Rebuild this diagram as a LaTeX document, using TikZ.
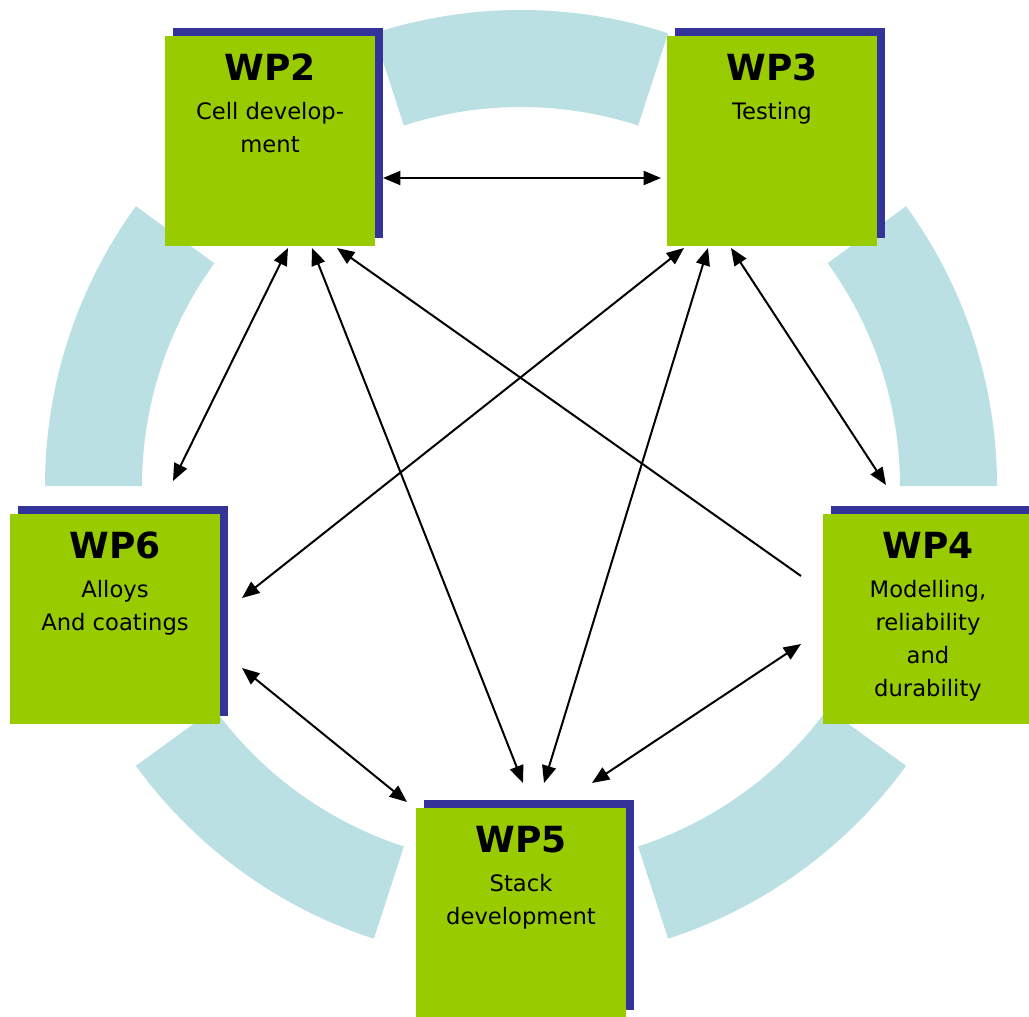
\documentclass[tikz,border=0pt]{standalone}
\usepackage{fontspec}
\setmainfont{DejaVu Sans}
\usetikzlibrary{arrows.meta,shadows}
\definecolor{wpgreen}{RGB}{153,204,0}
\definecolor{wpblue}{RGB}{51,51,153}
\definecolor{ringblue}{RGB}{187,224,227}
\begin{document}
\begin{tikzpicture}[x=0.75pt,y=-0.75pt,
  wpbox/.style={fill=wpgreen, minimum width=157.5pt, minimum height=157.5pt,
    inner sep=0pt, outer sep=0pt,
    general shadow={fill=wpblue, shadow xshift=6pt, shadow yshift=6pt}},
  wptitle/.style={anchor=base, inner sep=0pt, font=\bfseries\fontsize{27}{30}\selectfont},
  wpbody/.style={anchor=base, inner sep=0pt, font=\fontsize{17}{20}\selectfont},
  ringseg/.style={fill=ringblue, draw=none},
  link/.style={line width=1.5pt, {Triangle[length=13pt,width=10.5pt]}-{Triangle[length=13pt,width=10.5pt]}},
  onelink/.style={line width=1.5pt, {Triangle[length=13pt,width=10.5pt]}-}
]
\useasboundingbox (0,0) rectangle (1029,1017);
\clip (0,0) rectangle (1029,1017);

% ring segments
\begin{scope}[shift={(521,486)}, yscale=-1]
  \foreach \a in {0,72,144,216,288}{
    \path[ringseg] (\a:476) arc[start angle=\a, end angle=\a+36, radius=476]
      -- (\a+36:379) arc[start angle=\a+36, end angle=\a, radius=379] -- cycle;
  }
\end{scope}

% boxes
\node[wpbox] (wp2) at (270,141) {};
\node[wpbox] (wp3) at (772,141) {};
\node[wpbox] (wp4) at (928,619) {};
\node[wpbox] (wp5) at (521,913) {};
\node[wpbox] (wp6) at (115,619) {};

% texts
\node[wptitle] (wp2t) at (270,80) {WP2};
\node[wpbody] (wp2a) at (270,119) {Cell develop-};
\node[wpbody] (wp2b) at (270,152) {ment};

\node[wptitle] (wp3t) at (772,80) {WP3};
\node[wpbody] (wp3a) at (772,119) {Testing};

\node[wptitle] (wp4t) at (928,558) {WP4};
\node[wpbody] (wp4a) at (928,597) {Modelling,};
\node[wpbody] (wp4b) at (928,630) {reliability};
\node[wpbody] (wp4c) at (928,663) {and};
\node[wpbody] (wp4d) at (928,696) {durability};

\node[wptitle] (wp5t) at (521,852) {WP5};
\node[wpbody] (wp5a) at (521,891) {Stack};
\node[wpbody] (wp5b) at (521,924) {development};

\node[wptitle] (wp6t) at (115,558) {WP6};
\node[wpbody] (wp6a) at (115,597) {Alloys};
\node[wpbody] (wp6b) at (115,630) {And coatings};

% connector end points
\coordinate (p2r) at (383,178);
\coordinate (p3l) at (661,178);
\coordinate (p2a) at (288,248);
\coordinate (p2b) at (312,248);
\coordinate (p2c) at (337,248);
\coordinate (p3a) at (684,248);
\coordinate (p3b) at (708,248);
\coordinate (p3c) at (731,248);
\coordinate (p6t) at (173,481);
\coordinate (p6a) at (242,598);
\coordinate (p6b) at (242,668);
\coordinate (p4t) at (886,485);
\coordinate (p4a) at (801,576);
\coordinate (p4b) at (801,644);
\coordinate (p5a) at (407,802);
\coordinate (p5b) at (523,783);
\coordinate (p5c) at (544,783);
\coordinate (p5d) at (592,783);

% connectors
\draw[link] (p2r) -- (p3l);
\draw[link] (p2a) -- (p6t);
\draw[link] (p2b) -- (p5b);
\draw[onelink] (p2c) -- (p4a);
\draw[link] (p3a) -- (p6a);
\draw[link] (p3b) -- (p5c);
\draw[link] (p3c) -- (p4t);
\draw[link] (p6b) -- (p5a);
\draw[link] (p4b) -- (p5d);
\end{tikzpicture}
\end{document}
